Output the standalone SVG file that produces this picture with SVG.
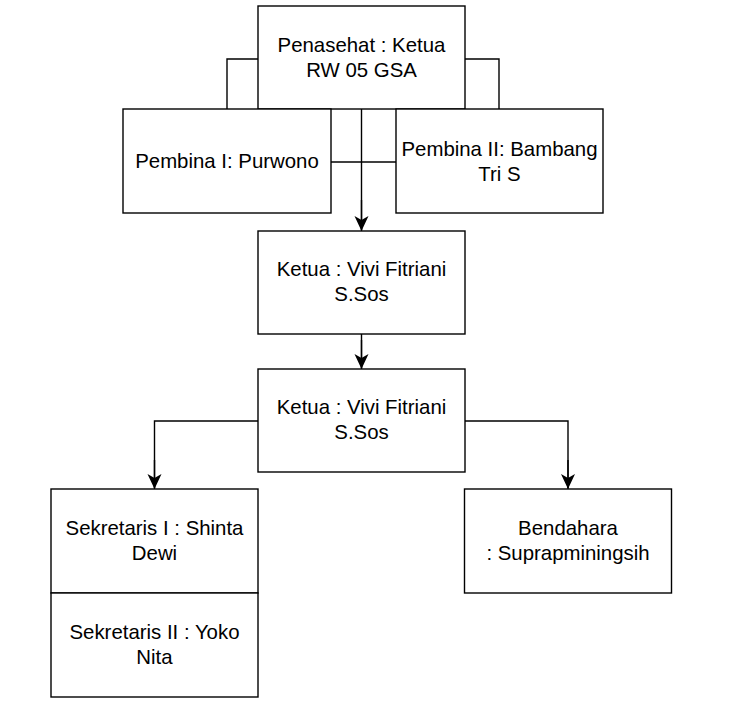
<svg xmlns="http://www.w3.org/2000/svg" width="734" height="702" viewBox="0 0 734 702">
<style>
.box{fill:#ffffff;stroke:#000000;stroke-width:1.4}
.ln{fill:none;stroke:#000000;stroke-width:1.4}
text{font-family:"Liberation Sans",Arial,sans-serif;font-size:20.4px;fill:#000000;text-anchor:middle}
</style>
<defs>
<marker id="arr" markerUnits="userSpaceOnUse" markerWidth="17" markerHeight="16" viewBox="-16 -8 17 16" refX="0" refY="0" orient="auto">
<path d="M0,0 L-15,-7 L-11,0 L-15,7 Z" fill="#000000"/>
</marker>
</defs>
<rect width="734" height="702" fill="#ffffff"/>
<g id="connectors">
<polyline class="ln" points="258,59 227,59 227,109"/>
<polyline class="ln" points="465,59 499,59 499,109"/>
<line class="ln" x1="331" y1="162" x2="396" y2="162"/>
<path class="ln" d="M361.5,109 L361.5,230"/>
<path class="ln" d="M361.5,334 L361.5,368"/>
<path class="ln" d="M258,421 L154.5,421 L154.5,488"/>
<path class="ln" d="M465,421 L568,421 L568,488"/>
<path class="ln" d="M361.5,200 L361.5,231" stroke="none" marker-end="url(#arr)"/>
<path class="ln" d="M361.5,340 L361.5,369" stroke="none" marker-end="url(#arr)"/>
<path class="ln" d="M154.5,460 L154.5,489" stroke="none" marker-end="url(#arr)"/>
<path class="ln" d="M568,460 L568,489" stroke="none" marker-end="url(#arr)"/>
</g>
<g id="penasehat">
<rect class="box" x="258" y="6" width="207" height="103"/>
<text x="361.5" y="52">Penasehat : Ketua</text>
<text x="361.5" y="77">RW 05 GSA</text>
</g>
<g id="pembina1">
<rect class="box" x="123" y="109" width="208" height="104"/>
<text x="227" y="167.5">Pembina I: Purwono</text>
</g>
<g id="pembina2">
<rect class="box" x="396" y="109" width="207" height="104"/>
<text x="499.5" y="156">Pembina II: Bambang</text>
<text x="499.5" y="180.5">Tri S</text>
</g>
<g id="ketua1">
<rect class="box" x="258" y="231" width="207" height="103"/>
<text x="361.5" y="276">Ketua : Vivi Fitriani</text>
<text x="361.5" y="301">S.Sos</text>
</g>
<g id="ketua2">
<rect class="box" x="258" y="369" width="207" height="103"/>
<text x="361.5" y="413.5">Ketua : Vivi Fitriani</text>
<text x="361.5" y="439">S.Sos</text>
</g>
<g id="sekretaris1">
<rect class="box" x="51" y="489" width="207" height="104"/>
<text x="154.5" y="534.5">Sekretaris I : Shinta</text>
<text x="154.5" y="559.5">Dewi</text>
</g>
<g id="sekretaris2">
<rect class="box" x="51" y="593" width="207" height="104"/>
<text x="154.5" y="638.5">Sekretaris II : Yoko</text>
<text x="154.5" y="663.5">Nita</text>
</g>
<g id="bendahara">
<rect class="box" x="464.5" y="489" width="207" height="104"/>
<text x="568" y="534.5">Bendahara</text>
<text x="568" y="559.5">: Suprapminingsih</text>
</g>
</svg>
